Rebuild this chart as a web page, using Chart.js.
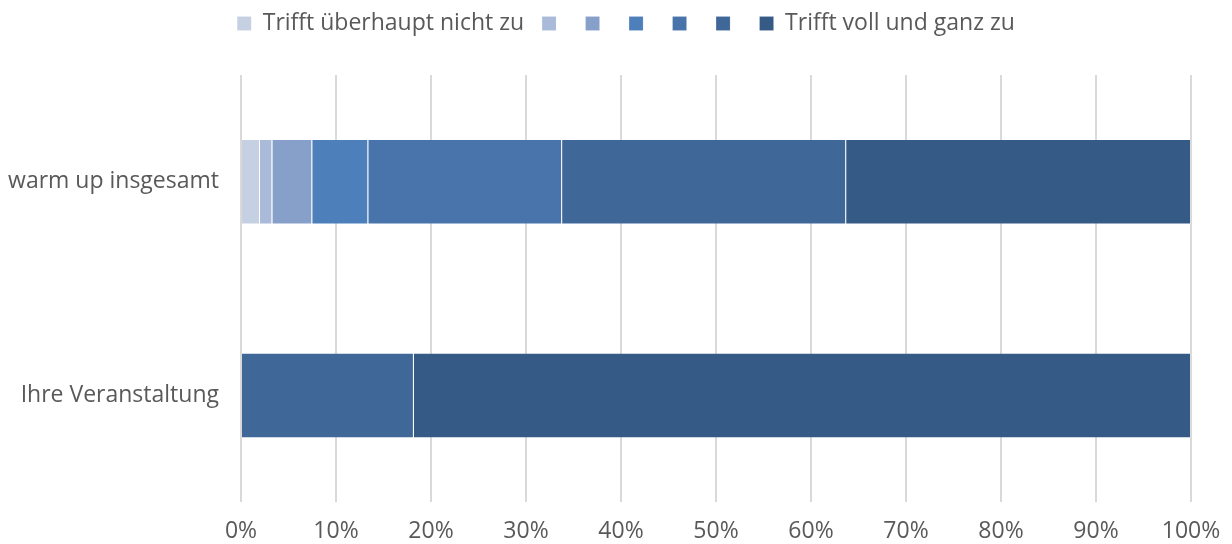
<!DOCTYPE html>
<html>
<head>
<meta charset="utf-8">
<script src="https://cdn.jsdelivr.net/npm/chart.js@4"></script>
<style>
    html, body { margin: 0; padding: 0; background: #fff; }
    #wrap { width: 1232px; height: 544px; }
</style>
</head>
<body>
<div id="wrap"><canvas id="grafico"></canvas></div>
<script>
const kategorien = ['warm up insgesamt', 'Ihre Veranstaltung'];
const stufen = ['Trifft überhaupt nicht zu', '', '', '', '', '', 'Trifft voll und ganz zu'];
const stufe1 = [2.0, 0];
const stufe2 = [1.3, 0];
const stufe3 = [4.2, 0];
const stufe4 = [5.9, 0];
const stufe5 = [20.4, 0];
const stufe6 = [29.9, 18.2];
const stufe7 = [36.3, 81.8];
const xTicks = [0, 10, 20, 30, 40, 50, 60, 70, 80, 90, 100];

const werte = [stufe1, stufe2, stufe3, stufe4, stufe5, stufe6, stufe7];
const farben = ['#c5d0e2', '#aabad9', '#87a0ca', '#4d7fba', '#4874ab', '#3f6899', '#355a85'];

const schrift = "'Open Sans', sans-serif";
const grau = '#595959';

// Abstand zwischen Legende und Diagramm vergrößern, Legende etwas nach rechts
const legendenAbstand = {
    id: 'legendenAbstand',
    beforeInit(chart) {
        const fitOrig = chart.legend.fit;
        chart.legend.fit = function () {
            fitOrig.bind(chart.legend)();
            this.height += 30;
        };
    },
    beforeDraw(chart) {
        chart.legend.left = 18;
        chart.legend.right = chart.width - 10 + 12;
    }
};

window.onload = function () {
    const ctx = document.getElementById('grafico').getContext('2d');
    new Chart(ctx, {
        type: 'bar',
        data: {
            labels: kategorien,
            datasets: werte.map((w, i) => ({
                label: stufen[i],
                data: w,
                backgroundColor: farben[i],
                borderColor: 'rgba(255,255,255,0.12)',
                borderWidth: 1,
                barPercentage: 0.4,
                categoryPercentage: 1
            }))
        },
        plugins: [legendenAbstand],
        options: {
            indexAxis: 'y',
            responsive: true,
            maintainAspectRatio: false,
            animation: false,
            layout: { padding: { left: 0, right: 0, top: -6, bottom: -16 } },
            plugins: {
                tooltip: { enabled: false },
                legend: {
                    position: 'top',
                    labels: {
                        boxWidth: 14,
                        boxHeight: 14,
                        padding: 18,
                        color: grau,
                        font: { family: schrift, size: 23 }
                    }
                }
            },
            scales: {
                x: {
                    stacked: true,
                    min: 0,
                    max: 100,
                    afterBuildTicks: s => { s.ticks = xTicks.map(v => ({ value: v })); },
                    afterFit: s => { s.paddingLeft = 0; s.paddingRight = 41; },
                    ticks: {
                        callback: v => v + '%',
                        color: grau,
                        padding: 15,
                        font: { family: schrift, size: 23 }
                    },
                    grid: { color: '#d9d9d9', lineWidth: 2, drawTicks: false },
                    border: { display: false }
                },
                y: {
                    stacked: true,
                    afterFit: s => { s.width = 241; },
                    ticks: {
                        color: grau,
                        padding: 14,
                        font: { family: schrift, size: 23 }
                    },
                    grid: { display: false },
                    border: { display: false }
                }
            }
        }
    });
};
</script>
</body>
</html>
